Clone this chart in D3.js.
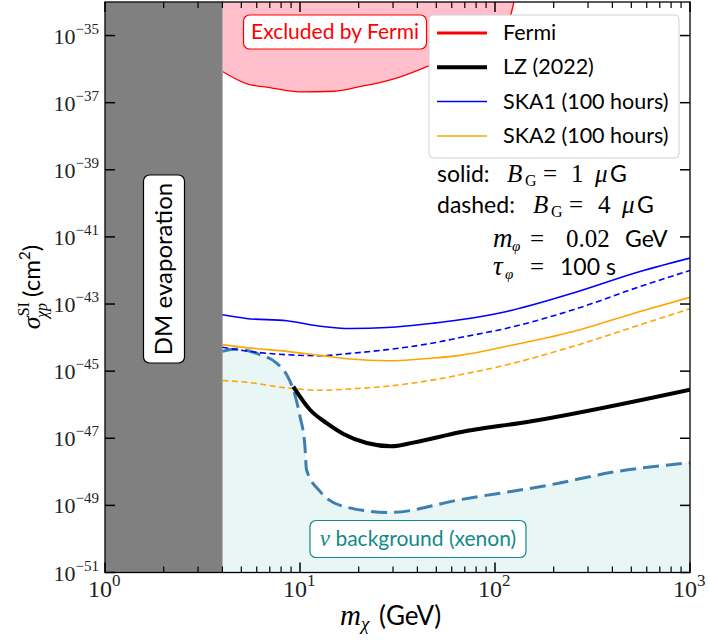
<!DOCTYPE html>
<meta charset="utf-8">
<style>
body {
  margin: 0;
  background: white;
}
text {
  font-family: Lato, "Open Sans", sans-serif;
}
.math {
  font-family: "Liberation Serif", serif;
}
</style>
<body>
<script src="https://cdn.jsdelivr.net/npm/d3@7"></script>
<script>

var width = 708,
    height = 641;

// masses in GeV, cross sections as log10(sigma / cm^2)
var fermiMass  = [4, 5.3, 7, 10, 15, 20, 30, 45, 70, 100, 120, 125];
var fermiSigma = [-36.07, -36.43, -36.55, -36.68, -36.66, -36.53, -36.3, -35.92, -35.45, -35.0, -34.4, -34.0];

var lzMass  = [9.24, 11.25, 13.7, 16.7, 22, 29.5, 38.1, 66.2, 151, 1000];
var lzSigma = [-45.46, -46.15, -46.55, -46.87, -47.14, -47.24, -47.13, -46.82, -46.50, -45.55];

var nuMass  = [4, 4.73, 6.24, 7.59, 8.55, 9.24, 10, 10.6, 10.8, 12.7, 16.7, 29, 66.2, 191, 421, 1000];
var nuSigma = [-44.41, -44.34, -44.51, -44.76, -45.11, -45.55, -46.35, -47.24, -47.94, -48.59, -49.03, -49.21, -48.83, -48.39, -47.99, -47.73];

var skaMass = [4, 5.3, 8.55, 12.7, 18.1, 28, 48.3, 66.2, 115, 252, 554, 1000];
var ska1Solid  = [-43.32, -43.43, -43.50, -43.66, -43.73, -43.70, -43.57, -43.47, -43.22, -42.67, -42.03, -41.63];
var ska1Dashed = [-44.29, -44.40, -44.51, -44.54, -44.47, -44.36, -44.16, -44.00, -43.72, -43.17, -42.48, -42.00];
var ska2Solid  = [-44.21, -44.30, -44.41, -44.53, -44.64, -44.69, -44.61, -44.53, -44.26, -43.82, -43.22, -42.80];
var ska2Dashed = [-45.28, -45.33, -45.50, -45.57, -45.53, -45.45, -45.26, -45.11, -44.81, -44.26, -43.62, -43.14];

var evapMass = 4;

var yTickExp = [-51, -49, -47, -45, -43, -41, -39, -37, -35];
var xTickExp = [0, 1, 2, 3];

var legendItems = [
  {label: "Fermi", color: "red", width: 3},
  {label: "LZ (2022)", color: "black", width: 4},
  {label: "SKA1 (100 hours)", color: "blue", width: 1.5},
  {label: "SKA2 (100 hours)", color: "orange", width: 1.5}
];

var x = d3.scaleLog().domain([1, 1000]).range([105, 690]);
var y = d3.scaleLinear().domain([-51, -34]).range([572.5, 2]);

var svg = d3.select("body").append("svg")
    .attr("width", width)
    .attr("height", height);

svg.append("defs").append("clipPath").attr("id", "clip")
  .append("rect")
    .attr("x", x(1)).attr("y", y(-34))
    .attr("width", x(1000) - x(1)).attr("height", y(-51) - y(-34));

var plot = svg.append("g").attr("clip-path", "url(#clip)");

function pts(mass, sig) {
  return mass.map(function(m, i) { return [m, sig[i]]; });
}

var line = d3.line()
    .x(function(d) { return x(d[0]); })
    .y(function(d) { return y(d[1]); })
    .curve(d3.curveMonotoneX);

// neutrino floor
plot.append("path")
    .datum(pts(nuMass, nuSigma))
    .attr("d", d3.area()
      .x(function(d) { return x(d[0]); })
      .y0(y(-51))
      .y1(function(d) { return y(d[1]); })
      .curve(d3.curveMonotoneX))
    .style("fill", "#e8f6f6");

// fermi excluded
plot.append("path")
    .datum(pts(fermiMass, fermiSigma))
    .attr("d", d3.area()
      .x(function(d) { return x(d[0]); })
      .y0(y(-34))
      .y1(function(d) { return y(d[1]); })
      .curve(d3.curveMonotoneX))
    .style("fill", "pink");

plot.append("path")
    .datum(pts(fermiMass, fermiSigma))
    .attr("d", line)
    .style("fill", "none")
    .style("stroke", "red")
    .style("stroke-width", 1.3);

// evaporation band
plot.append("rect")
    .attr("x", x(1))
    .attr("y", y(-34))
    .attr("width", x(evapMass) - x(1))
    .attr("height", y(-51) - y(-34))
    .style("fill", "grey")
    .style("stroke", "#b0b0b0")
    .style("stroke-width", 1);

plot.append("path")
    .datum(pts(nuMass, nuSigma))
    .attr("d", line)
    .style("fill", "none")
    .style("stroke", "#3d7fb1")
    .style("stroke-width", 3)
    .style("stroke-dasharray", "16,7");

var skaLines = [
  {data: ska1Solid, color: "blue", dash: null},
  {data: ska1Dashed, color: "blue", dash: "6,3.5"},
  {data: ska2Solid, color: "orange", dash: null},
  {data: ska2Dashed, color: "orange", dash: "6,3.5"}
];

skaLines.forEach(function(s) {
  plot.append("path")
      .datum(pts(skaMass, s.data))
      .attr("d", line)
      .style("fill", "none")
      .style("stroke", s.color)
      .style("stroke-width", 1.6)
      .style("stroke-dasharray", s.dash);
});

plot.append("path")
    .datum(pts(lzMass, lzSigma))
    .attr("d", line)
    .style("fill", "none")
    .style("stroke", "black")
    .style("stroke-width", 4);

// ticks
var axes = svg.append("g").style("stroke", "black");

xTickExp.forEach(function(e) {
  var v = Math.pow(10, e);
  [[y(-51), -1], [y(-34), 1]].forEach(function(p) {
    axes.append("line")
        .attr("x1", x(v)).attr("x2", x(v))
        .attr("y1", p[0]).attr("y2", p[0] + p[1] * 10)
        .style("stroke-width", 1.5);
  });
  if (e < 3) {
    d3.range(2, 10).forEach(function(k) {
      var vm = k * v;
      [[y(-51), -1], [y(-34), 1]].forEach(function(p) {
        axes.append("line")
            .attr("x1", x(vm)).attr("x2", x(vm))
            .attr("y1", p[0]).attr("y2", p[0] + p[1] * 6)
            .style("stroke-width", 1.2);
      });
    });
  }
});

yTickExp.forEach(function(e) {
  [[x(1), 1], [x(1000), -1]].forEach(function(p) {
    axes.append("line")
        .attr("x1", p[0]).attr("x2", p[0] + p[1] * 10)
        .attr("y1", y(e)).attr("y2", y(e))
        .style("stroke-width", 1.5);
  });
});

svg.append("rect")
    .attr("x", x(1)).attr("y", y(-34))
    .attr("width", x(1000) - x(1)).attr("height", y(-51) - y(-34))
    .style("fill", "none")
    .style("stroke", "black")
    .style("stroke-width", 1.3);

// tick labels
yTickExp.forEach(function(e) {
  var t = svg.append("text")
      .attr("class", "math")
      .attr("x", 99)
      .attr("y", y(e) + 8)
      .attr("text-anchor", "end")
      .style("font-size", "22px")
      .style("fill", "#222");
  t.append("tspan").text("10");
  t.append("tspan").attr("dy", -10).style("font-size", "15px").text("\u2212" + (-e));
});

xTickExp.forEach(function(e) {
  var t = svg.append("text")
      .attr("class", "math")
      .attr("x", x(Math.pow(10, e)) - 17)
      .attr("y", 597)
      .style("font-size", "24px")
      .style("fill", "#222");
  t.append("tspan").text("10");
  t.append("tspan").attr("dy", -11).style("font-size", "17px").text(e);
});

// axis labels
var xl = svg.append("text")
    .attr("x", 340)
    .attr("y", 625)
    .style("font-size", "26px");
xl.append("tspan").attr("class", "math").style("font-style", "italic").style("font-size", "29px").text("m");
xl.append("tspan").attr("class", "math").style("font-style", "italic")
    .style("font-size", "19px").attr("dy", 5).text("\u03c7");
xl.append("tspan").attr("dy", -5).attr("dx", 3).text(" (GeV)");

var yl = svg.append("text")
    .attr("transform", "translate(40,287)rotate(-90)")
    .attr("text-anchor", "middle")
    .style("font-size", "24px");
yl.append("tspan").attr("class", "math").style("font-style", "italic").style("font-size", "26px").text("\u03c3");
yl.append("tspan").attr("class", "math").style("font-size", "16px").attr("dy", -11).text("SI");
yl.append("tspan").attr("class", "math").style("font-style", "italic")
    .style("font-size", "16px").attr("dx", -16).attr("dy", 18).text("\u03c7p");
yl.append("tspan").attr("dy", -7).text(" (cm");
yl.append("tspan").style("font-size", "15px").attr("dy", -10).text("2");
yl.append("tspan").attr("dy", 10).text(")");

// boxed annotations
function boxLabel(cx, cy, w, h, color, size, rot) {
  var g = svg.append("g").attr("transform", "translate(" + cx + "," + cy + ")rotate(" + (rot || 0) + ")");
  g.append("rect")
      .attr("x", -w / 2).attr("y", -h / 2)
      .attr("width", w).attr("height", h)
      .attr("rx", 6)
      .style("fill", "white")
      .style("stroke", color)
      .style("stroke-width", 1.2);
  return g.append("text")
      .attr("text-anchor", "middle")
      .attr("dy", "0.35em")
      .style("font-size", size + "px")
      .style("fill", color);
}

boxLabel(335, 32, 183, 34, "red", 21).text("Excluded by Fermi");
boxLabel(164, 269, 188, 41, "black", 24, -90).text("DM evaporation");
var nu = boxLabel(418, 539, 216, 37, "#128a8a", 21);
nu.append("tspan").attr("class", "math").style("font-style", "italic").style("font-size", "23px").text("\u03bd");
nu.append("tspan").text(" background (xenon)");

// legend
var lg = svg.append("g").attr("transform", "translate(429,15)");
lg.append("rect")
    .attr("width", 250).attr("height", 143)
    .attr("rx", 4)
    .style("fill", "white")
    .style("stroke", "#d0d0d0")
    .style("stroke-width", 1);

legendItems.forEach(function(d, i) {
  var yy = 18 + i * 34.3;
  lg.append("line")
      .attr("x1", 8).attr("x2", 58)
      .attr("y1", yy).attr("y2", yy)
      .style("stroke", d.color)
      .style("stroke-width", d.width);
  lg.append("text")
      .attr("x", 74).attr("y", yy + 7)
      .style("font-size", "21.5px")
      .text(d.label);
});

// notes (tspans placed at fixed x offsets)
function note(yy, parts) {
  var t = svg.append("text").attr("y", yy).style("font-size", "23px");
  parts.forEach(function(p) {
    var s = t.append("tspan").attr("x", p.x).text(p.t);
    if (p.m) s.attr("class", "math").style("font-size", (p.fs || 25) + "px");
    if (p.i) s.style("font-style", "italic");
    if (p.dy) s.attr("dy", p.dy);
  });
}

note(182, [
  {x: 437, t: "solid:"},
  {x: 507, t: "B", m: 1, i: 1},
  {x: 525, t: "G", m: 1, fs: 16, dy: 4},
  {x: 543, t: "=", m: 1, dy: -4},
  {x: 571, t: "1", m: 1},
  {x: 595, t: "\u03bc", m: 1, i: 1},
  {x: 610, t: "G"}
]);

note(213, [
  {x: 437, t: "dashed:"},
  {x: 533, t: "B", m: 1, i: 1},
  {x: 551, t: "G", m: 1, fs: 16, dy: 4},
  {x: 569, t: "=", m: 1, dy: -4},
  {x: 598, t: "4", m: 1},
  {x: 622, t: "\u03bc", m: 1, i: 1},
  {x: 637, t: "G"}
]);

note(247, [
  {x: 493, t: "m", m: 1, i: 1, fs: 27},
  {x: 512, t: "\u03c6", m: 1, i: 1, fs: 15, dy: 4},
  {x: 530, t: "=", m: 1, dy: -4},
  {x: 566, t: "0.02", m: 1},
  {x: 625, t: "GeV"}
]);

note(275, [
  {x: 493, t: "\u03c4", m: 1, i: 1, fs: 27},
  {x: 505, t: "\u03c6", m: 1, i: 1, fs: 15, dy: 4},
  {x: 530, t: "=", m: 1, dy: -4},
  {x: 560, t: "100 s"}
]);

</script>
